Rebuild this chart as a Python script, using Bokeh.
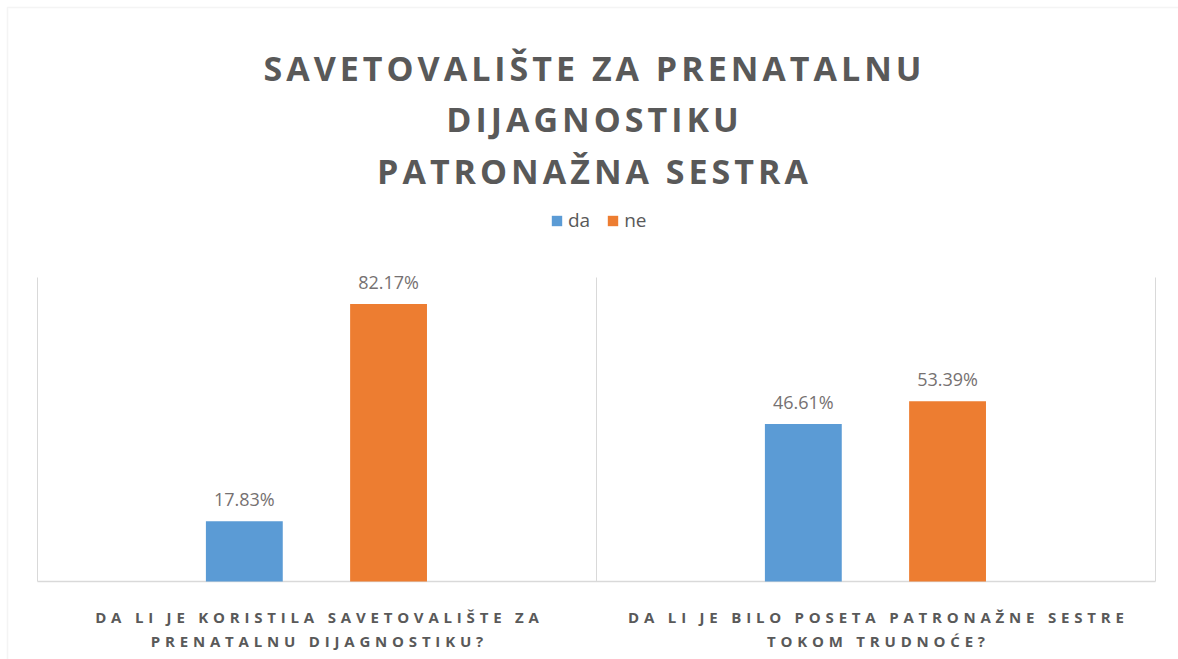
from bokeh.plotting import figure
from bokeh.io import curdoc
from bokeh.models import Range1d, Label, Legend, LegendItem, ColumnDataSource, BoxAnnotation, CustomJS
from bokeh.transform import dodge
from bokeh.embed import file_html
from bokeh.resources import INLINE

# ---- data ----
title_lines = ["SAVETOVALIŠTE ZA PRENATALNU", "DIJAGNOSTIKU", "PATRONAŽNA SESTRA"]
categories = [
    "DA LI JE KORISTILA SAVETOVALIŠTE ZA\nPRENATALNU DIJAGNOSTIKU?",
    "DA LI JE BILO POSETA PATRONAŽNE SESTRE\nTOKOM TRUDNOĆE?",
]
series_names = ["da", "ne"]
da_values = [17.83, 46.61]
ne_values = [82.17, 53.39]
colors = ["#5B9BD5", "#ED7D31"]
y_max = 90

TXT = "#595959"
LBL = "#767171"
GRID = "#D9D9D9"
FONT = "Open Sans"

W, H = 1178, 659
# plot-area placement in pixels (left, right, top, bottom)
PL, PR, PT, PB = 37, 1155, 277, 581
n = len(categories)
ux = (PR - PL) / n            # px per category
uy = (PB - PT) / y_max        # px per percent

p = figure(width=W, height=H, output_backend="svg", toolbar_location=None,
           x_range=Range1d(-PL / ux, n + (W - PR) / ux),
           y_range=Range1d(-(H - PB) / uy, PB / uy),
           x_axis_type=None, y_axis_type=None,
           min_border=0, min_border_left=0, min_border_right=0,
           min_border_top=0, min_border_bottom=0)
p.xgrid.visible = False
p.ygrid.visible = False
p.outline_line_color = None
p.background_fill_color = "white"
p.border_fill_color = "white"

# outer chart border (top & left visible)
p.add_layout(BoxAnnotation(left=7, right=W + 20, top=H - 7, bottom=-20,
                           left_units="screen", right_units="screen",
                           top_units="screen", bottom_units="screen",
                           fill_alpha=0, line_color=GRID, line_width=1.5))

# category separators and baseline
bounds = list(range(n + 1))
p.segment(x0=bounds, y0=[0] * len(bounds), x1=bounds, y1=[y_max] * len(bounds),
          line_color=GRID, line_width=1)
p.segment(x0=[0], y0=[0], x1=[n], y1=[0], line_color=GRID, line_width=1.5)

centers = [i + 0.5 for i in range(n)]
src = ColumnDataSource(dict(
    x=centers, da=da_values, ne=ne_values,
    da_lbl=[f"{v:.2f}%" for v in da_values],
    ne_lbl=[f"{v:.2f}%" for v in ne_values],
))

offsets = [-0.13, 0.128]
renderers = []
for name, col, off in zip(series_names, colors, offsets):
    xd = dodge("x", off, range=p.x_range)
    r = p.vbar(x=xd, top=name, width=0.1375, source=src,
               fill_color=col, line_color=None)
    renderers.append(r)
    p.text(x=xd, y=name, text=f"{name}_lbl", source=src,
           text_align="center", text_baseline="bottom", y_offset=-10,
           text_font_size="18px", text_color=LBL, text_font={"value": FONT})

legend = Legend(
    items=[LegendItem(label=nm, renderers=[r]) for nm, r in zip(series_names, renderers)],
    location=(550, H - 233), orientation="horizontal",
    padding=0, margin=0, glyph_width=13, glyph_height=13, label_height=13,
    label_standoff=5, spacing=16, border_line_color=None,
    background_fill_alpha=0,
    label_text_font_size="19px", label_text_color=TXT, label_text_font=FONT,
)
p.add_layout(legend, "center")

# title lines
title_base = [67, 118, 170]
for t, yb in zip(title_lines, title_base):
    p.add_layout(Label(x=592, y=H - yb, x_units="screen", y_units="screen", text=t,
                       text_align="center", text_baseline="alphabetic",
                       text_font_size="34px", text_font_style="bold",
                       text_color=TXT, text_font=FONT))

# category labels
cat_base = [616, 640]
for c, cx in zip(categories, centers):
    for line, yb in zip(c.split("\n"), cat_base):
        p.add_layout(Label(x=cx, y=H - yb, x_units="data", y_units="screen",
                           text=line, text_align="center", text_baseline="alphabetic",
                           text_font_size="15px", text_font_style="bold",
                           text_color=TXT, text_font=FONT))

# letter spacing for the bold title / category texts (as in the original chart),
# keeping each text centred where Bokeh placed it
spacing_js = CustomJS(code="""
function apply() {
  const walk = (root) => {
    root.querySelectorAll('*').forEach(el => { if (el.shadowRoot) walk(el.shadowRoot) })
    root.querySelectorAll('text').forEach(t => {
      if (t.dataset.ls) return
      const fs = t.getAttribute('font-size') || t.style.fontSize
      const fw = t.getAttribute('font-weight') || t.style.fontWeight
      if (!(String(fw) == 'bold' || String(fw) == '700')) return
      let sp = 0
      if (fs == '15px') sp = 4.8
      if (fs == '34px') sp = 4.0
      if (!sp) return
      const w0 = t.getComputedTextLength()
      t.setAttribute('letter-spacing', sp + 'px')
      const w1 = t.getComputedTextLength()
      const x = parseFloat(t.getAttribute('x') || '0')
      t.setAttribute('x', String(x - (w1 - w0 - sp) / 2))
      t.dataset.ls = '1'
    })
  }
  walk(document)
}
apply(); setTimeout(apply, 50); setTimeout(apply, 300); setTimeout(apply, 1000);
""")
doc = curdoc()
doc.add_root(p)
doc.js_on_event("document_ready", spacing_js)

open("out.html", "w").write(file_html(p, INLINE))
